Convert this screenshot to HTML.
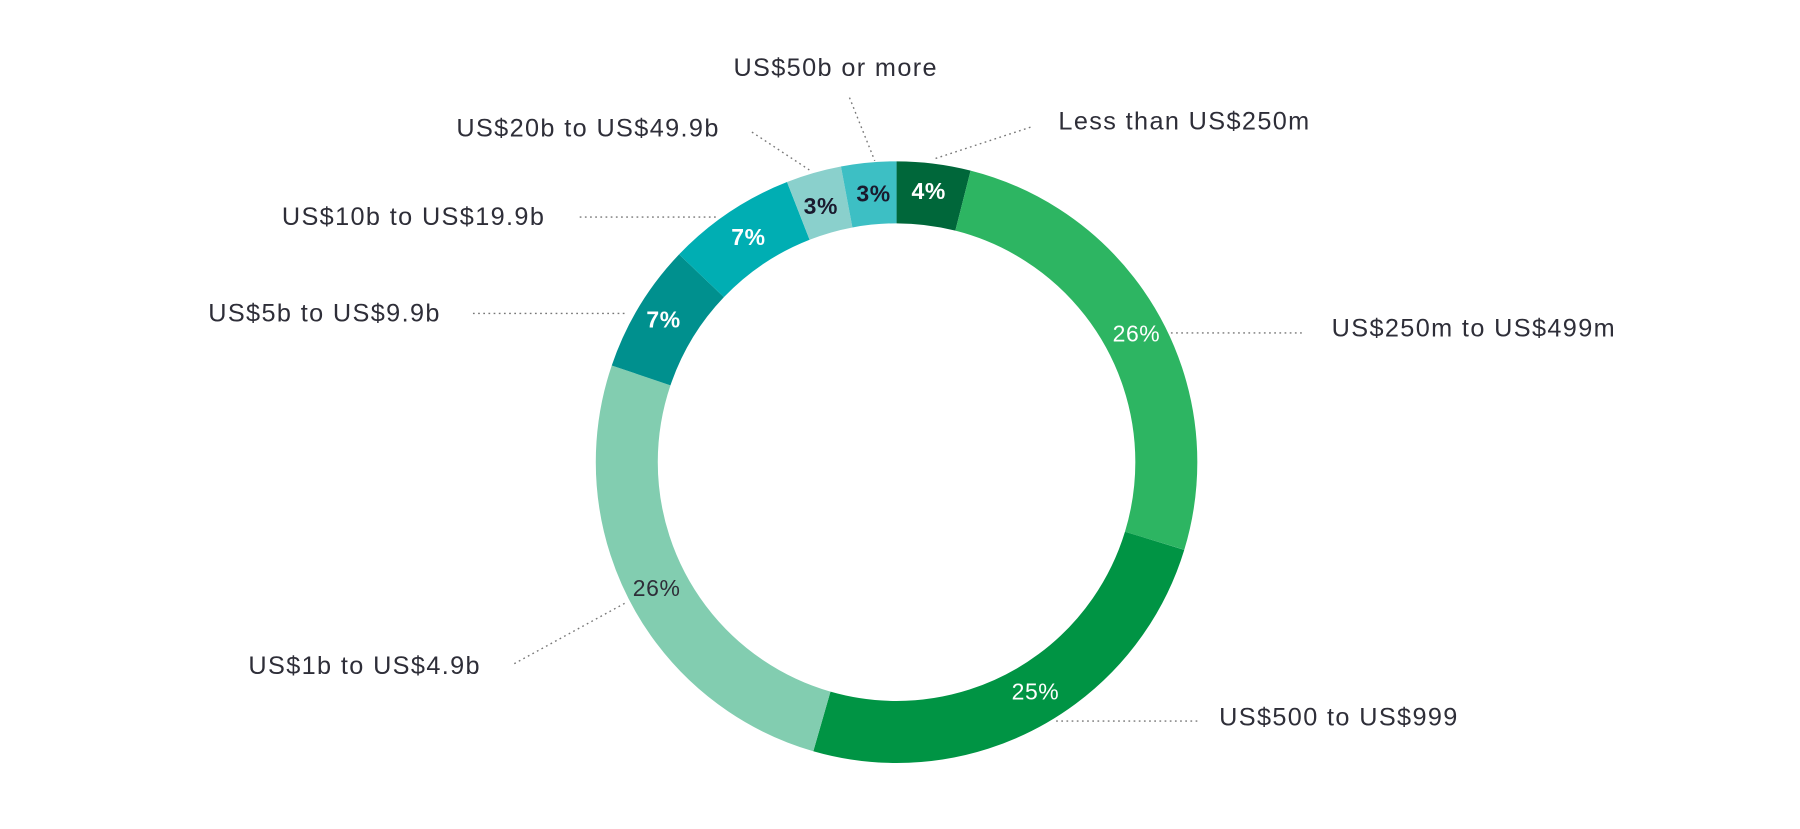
<!DOCTYPE html>
<html><head><meta charset="utf-8"><style>
html,body{margin:0;padding:0;background:#fff;width:1800px;height:829px;overflow:hidden}
svg{display:block}
text{font-family:"Liberation Sans",sans-serif}
.l{font-size:22px;fill:#2e2e38;letter-spacing:1.2px}
.p{font-size:20px;font-weight:bold;dominant-baseline:middle;text-anchor:middle;letter-spacing:0.5px}
.d{stroke:#777;stroke-width:1.2;stroke-dasharray:1.5 3;fill:none}
</style></head><body>
<svg width="1800" height="829" viewBox="0 0 1568 722" preserveAspectRatio="none">
<g transform="rotate(-90 781 402.5)" fill="none" stroke-width="54">
<circle cx="781" cy="402.5" r="235" stroke="#00673a" stroke-dasharray="58.48 2000" stroke-dashoffset="0"/>
<circle cx="781" cy="402.5" r="235" stroke="#2db562" stroke-dasharray="380.1 2000" stroke-dashoffset="-58.48"/>
<circle cx="781" cy="402.5" r="235" stroke="#009444" stroke-dasharray="365.5 2000" stroke-dashoffset="-438.6"/>
<circle cx="781" cy="402.5" r="235" stroke="#82cdb0" stroke-dasharray="380.1 2000" stroke-dashoffset="-804.1"/>
<circle cx="781" cy="402.5" r="235" stroke="#00908e" stroke-dasharray="102.3 2000" stroke-dashoffset="-1184.2"/>
<circle cx="781" cy="402.5" r="235" stroke="#00aeb3" stroke-dasharray="102.3 2000" stroke-dashoffset="-1286.5"/>
<circle cx="781" cy="402.5" r="235" stroke="#8ad0cc" stroke-dasharray="43.9 2000" stroke-dashoffset="-1388.8"/>
<circle cx="781" cy="402.5" r="235" stroke="#3dbfc4" stroke-dasharray="43.9 2000" stroke-dashoffset="-1432.7"/>
</g>
<path class="d" d="M740 85 L762 140 M655 115 L705 148 M815 138 L900 110 M505 189 L625 189 M412 273 L545 273 M1020 290 L1135 290 M448 578 L545 525 M920 628 L1045 628"/>
<text class="l" x="728" y="66" text-anchor="middle">US$50b or more</text>
<text class="l" x="627" y="119" text-anchor="end">US$20b to US$49.9b</text>
<text class="l" x="922" y="113">Less than US$250m</text>
<text class="l" x="475" y="196" text-anchor="end">US$10b to US$19.9b</text>
<text class="l" x="384" y="280" text-anchor="end">US$5b to US$9.9b</text>
<text class="l" x="1160" y="293">US$250m to US$499m</text>
<text class="l" x="419" y="587" text-anchor="end">US$1b to US$4.9b</text>
<text class="l" x="1062" y="632">US$500 to US$999</text>
<text class="p" x="809" y="168" fill="#fff">4%</text>
<text class="p" x="990" y="292" fill="#fff" style="font-weight:normal">26%</text>
<text class="p" x="902" y="604" fill="#fff" style="font-weight:normal">25%</text>
<text class="p" x="572" y="514" fill="#2e2e38" style="font-weight:normal">26%</text>
<text class="p" x="578" y="280" fill="#fff">7%</text>
<text class="p" x="652" y="208" fill="#fff">7%</text>
<text class="p" x="715" y="181" fill="#1a1a2e">3%</text>
<text class="p" x="761" y="170" fill="#1a1a2e">3%</text>
</svg>
</body></html>
